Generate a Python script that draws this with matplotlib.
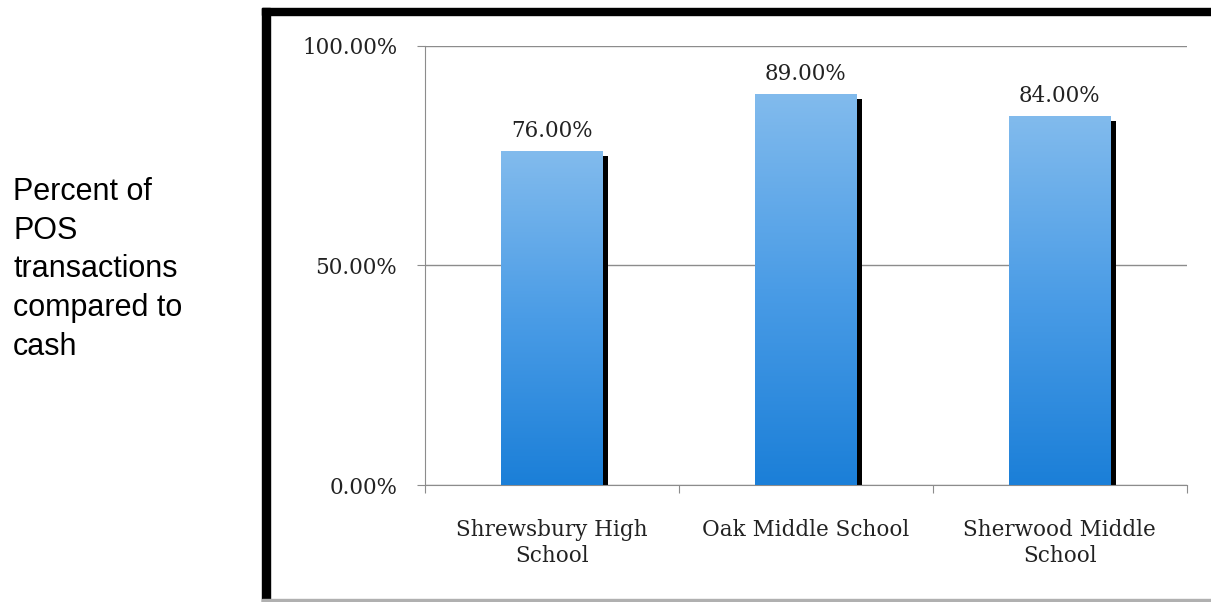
import numpy as np
import matplotlib
matplotlib.use("Agg")
import matplotlib.pyplot as plt
from matplotlib.patches import Rectangle
from matplotlib.colors import LinearSegmentedColormap
import matplotlib.ticker as plticker

schools = ["Shrewsbury High\nSchool", "Oak Middle School", "Sherwood Middle\nSchool"]
pos_pct = [76.0, 89.0, 84.0]
yticks = [0, 50, 100]

serif = "DejaVu Serif"
fs = 15.5
fig = plt.figure(figsize=(12.11, 6.02), dpi=100)
ax = fig.add_axes([0.351, 0.194, 0.629, 0.730])

x = np.arange(len(schools))
width = 0.40
grad = LinearSegmentedColormap.from_list("blu", ["#1b7fd8", "#4a9ce6", "#82bbed"])

# drop shadow first, then the bar with a vertical gradient on top
ax.bar(x + 0.022, [v - 1.1 for v in pos_pct], width, color="black", zorder=2)
bars = ax.bar(x, pos_pct, width, color="#4a9ce6", zorder=3)
g = np.linspace(0, 1, 256).reshape(-1, 1)
for b in bars:
	x0, y0 = b.get_x(), b.get_y()
	im = ax.imshow(g, cmap=grad, origin="lower", aspect="auto", zorder=4,
				   extent=[x0, x0 + b.get_width(), y0, y0 + b.get_height()])
	im.set_clip_path(b)
	ax.text(x0 + b.get_width() / 2, b.get_height() + 2.0, f"{b.get_height():.2f}%",
			ha="center", va="bottom", fontsize=fs, family=serif, color="#222222", zorder=5)

ax.set_xlim(-0.5, len(schools) - 0.5)
ax.set_ylim(0, 100)
ax.yaxis.set_major_locator(plticker.FixedLocator(yticks))
ax.set_yticklabels([f"{t:.2f}%" for t in yticks], family=serif, fontsize=fs, color="#222222")
ax.xaxis.set_major_locator(plticker.FixedLocator(np.arange(-0.5, len(schools), 1)))
ax.xaxis.set_minor_locator(plticker.FixedLocator(x))
ax.set_xticklabels([], minor=False)
ax.set_xticklabels(schools, minor=True, family=serif, fontsize=fs, color="#222222",
				   linespacing=1.25)
ax.tick_params(axis="x", which="minor", length=0, pad=24)
ax.tick_params(axis="x", which="major", length=6, color="#8c8c8c")
ax.tick_params(axis="y", length=6, color="#8c8c8c", pad=14)
ax.grid(True, axis="y", color="#8c8c8c", linewidth=1)
ax.set_axisbelow(True)
for s in ["top", "right"]:
	ax.spines[s].set_visible(False)
for s in ["left", "bottom"]:
	ax.spines[s].set_color("#8c8c8c")

# frame of the pasted chart
fig.patches.append(Rectangle((262 / 1211, 0), 8 / 1211, 594 / 602, transform=fig.transFigure,
							 color="black", zorder=10))
fig.patches.append(Rectangle((262 / 1211, 587 / 602), 949 / 1211, 7 / 602, transform=fig.transFigure,
							 color="black", zorder=10))
fig.patches.append(Rectangle((262 / 1211, 0), 949 / 1211, 3 / 602, transform=fig.transFigure,
							 color="#b0b0b0", zorder=10))

fig.text(13 / 1211, (602 - 177) / 602, "Percent of\nPOS\ntransactions\ncompared to\ncash",
		 family="Liberation Sans", fontsize=22, ha="left", va="top", linespacing=1.38)

plt.savefig("out.png", dpi=100)
